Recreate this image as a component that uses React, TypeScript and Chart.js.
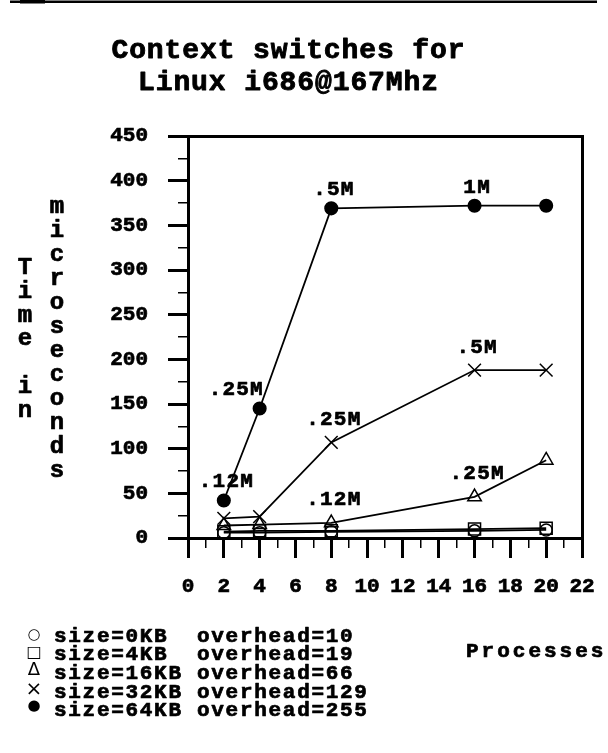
import { useEffect, useRef } from 'react';
import { Chart, registerables } from 'chart.js';

Chart.register(...registerables);

// ---------- data ----------
const TITLE_LINES = ['Context switches for', 'Linux i686@167Mhz'];
const Y_TITLE_LEFT = 'Time in';
const Y_TITLE_RIGHT = 'microseconds';
const X_TITLE = 'Processes';

const PROCESSES = [2, 4, 8, 16, 20];
const SIZE_0KB = [6, 6, 7, 8, 9];
const SIZE_4KB = [7, 8, 8, 10, 11];
const SIZE_16KB = [14, 15, 17, 46, 87];
const SIZE_32KB = [22, 24, 107, 188, 188];
const SIZE_64KB = [42, 145, 369, 372, 372];

const LABELS_16KB = ['', '', '.12M', '.25M', ''];
const LABELS_32KB = ['', '', '.25M', '.5M', ''];
const LABELS_64KB = ['.12M', '.25M', '.5M', '1M', ''];

const SERIES_NAMES = [
  'size=0KB  overhead=10',
  'size=4KB  overhead=19',
  'size=16KB overhead=66',
  'size=32KB overhead=129',
  'size=64KB overhead=255',
];
const LEGEND_SYMBOLS = ['\u25CB', '\u25A1', '\u0394', '\u00D7', '\u25CF'];

const X_MIN = 0;
const X_MAX = 22;
const X_STEP = 2;
const X_MINOR_STEP = 1;
const Y_MIN = 0;
const Y_MAX = 450;
const Y_STEP = 50;
const Y_MINOR_STEP = 25;

// ---------- styles ----------
const FONT = '"Liberation Mono", "Courier New", monospace';
const STROKE = 0.7;
const SYMBOL_SIZES = [15, 16, 18, 20, 15];
const SYMBOL_Y = [635, 652.7, 670.5, 690, 706];

type Series = {
  name: string;
  values: number[];
  labels: string[] | null;
  labelDy: number;
  labelAlign: string[];
  pointStyle: string;
  filled: boolean;
  radius: number;
};

const SERIES: Series[] = [
  { name: SERIES_NAMES[0], values: SIZE_0KB, labels: null, labelDy: 0, labelAlign: [], pointStyle: 'circle', filled: false, radius: 6 },
  { name: SERIES_NAMES[1], values: SIZE_4KB, labels: null, labelDy: 0, labelAlign: [], pointStyle: 'rect', filled: false, radius: 8.5 },
  { name: SERIES_NAMES[2], values: SIZE_16KB, labels: LABELS_16KB, labelDy: -18, labelAlign: ['c', 'c', 'c', 'c', 'c'], pointStyle: 'triangle', filled: false, radius: 7.8 },
  { name: SERIES_NAMES[3], values: SIZE_32KB, labels: LABELS_32KB, labelDy: -17, labelAlign: ['c', 'c', 'c', 'c', 'c'], pointStyle: 'crossRot', filled: false, radius: 9 },
  { name: SERIES_NAMES[4], values: SIZE_64KB, labels: LABELS_64KB, labelDy: -13, labelAlign: ['c', 'r', 'c', 'c', 'c'], pointStyle: 'circle', filled: true, radius: 6.3 },
];

function setSpacing(ctx: CanvasRenderingContext2D, sp: number) {
  (ctx as any).letterSpacing = sp + 'px';
}

function drawText(ctx: CanvasRenderingContext2D, text: string, x: number, y: number, sp: number, align: string, stroke = STROKE) {
  setSpacing(ctx, sp);
  ctx.textAlign = 'left';
  const w = ctx.measureText(text).width - sp;
  let x0 = x;
  if (align === 'c') x0 = x - w / 2;
  else if (align === 'r') x0 = x - w;
  ctx.fillText(text, x0, y);
  if (stroke > 0) {
    ctx.lineWidth = stroke;
    ctx.strokeText(text, x0, y);
  }
}

const textPlugin = {
  id: 'refTexts',
  afterDraw(chart: any) {
    const ctx: CanvasRenderingContext2D = chart.ctx;
    const xs = chart.scales.x;
    const ys = chart.scales.y;
    ctx.save();
    ctx.fillStyle = '#000';
    ctx.strokeStyle = '#000';
    ctx.lineJoin = 'round';

    // page rule at top
    ctx.fillRect(10, 0.5, 587, 2.5);
    ctx.fillRect(20, 0, 25, 3.5);

    ctx.textBaseline = 'alphabetic';

    // title
    ctx.font = `bold 28px ${FONT}`;
    TITLE_LINES.forEach((line, i) => drawText(ctx, line, 288, 58 + i * 32, 0.9, 'c', 0.9));

    // vertical y titles
    ctx.font = `bold 24px ${FONT}`;
    Y_TITLE_LEFT.split('').forEach((ch, i) => drawText(ctx, ch, 25, 274 + i * 23.8, 0, 'c'));
    Y_TITLE_RIGHT.split('').forEach((ch, i) => drawText(ctx, ch, 57, 212.7 + i * 24, 0, 'c'));

    // point annotations
    ctx.font = `bold 21px ${FONT}`;
    SERIES.forEach((s) => {
      if (!s.labels) return;
      s.labels.forEach((lab, i) => {
        if (!lab) return;
        const px = xs.getPixelForValue(PROCESSES[i]);
        const py = ys.getPixelForValue(s.values[i]);
        const al = s.labelAlign[i];
        drawText(ctx, lab, px + (al === 'r' ? 3 : 2), py + s.labelDy, 1.2, al);
      });
    });

    // legend
    ctx.font = `bold 21px ${FONT}`;
    SERIES.forEach((s, i) => drawText(ctx, s.name, 54, 641.7 + i * 18.6, 1.7, 'l'));
    ctx.textBaseline = 'middle';
    LEGEND_SYMBOLS.forEach((sym, i) => {
      ctx.font = `${SYMBOL_SIZES[i]}px "DejaVu Sans"`;
      drawText(ctx, sym, 34, SYMBOL_Y[i], 0, 'c', 0);
    });

    // x title
    ctx.textBaseline = 'alphabetic';
    ctx.font = `bold 21px ${FONT}`;
    drawText(ctx, X_TITLE, 466, 656.7, 3, 'l');

    ctx.restore();
  },
};

export default function App() {
  const ref = useRef<HTMLCanvasElement>(null);

  useEffect(() => {
    const canvas = ref.current;
    if (!canvas) return;
    const tickFont = { family: FONT, size: 21, weight: 'bold' as const };

    const datasets = SERIES.map((s) => ({
      label: s.name,
      data: PROCESSES.map((p, i) => ({ x: p, y: s.values[i] })),
      borderColor: '#000',
      borderWidth: 1.8,
      backgroundColor: '#000',
      pointStyle: s.pointStyle as any,
      pointRadius: s.radius,
      pointHoverRadius: s.radius,
      pointBorderColor: '#000',
      pointBorderWidth: 1.5,
      pointBackgroundColor: s.filled ? '#000' : 'rgba(0,0,0,0)',
      fill: false,
      tension: 0,
      clip: false as any,
      xAxisID: 'x',
      yAxisID: 'y',
    }));

    const noPad = (s: any) => {
      s.paddingLeft = 0;
      s.paddingRight = 0;
    };

    const chart = new Chart(canvas, {
      type: 'line',
      data: { datasets },
      options: {
        animation: false,
        responsive: false,
        maintainAspectRatio: false,
        events: [],
        layout: { padding: { left: 88, right: 26, top: 136, bottom: 135 } },
        plugins: {
          legend: { display: false },
          title: { display: false },
          tooltip: { enabled: false },
        },
        scales: {
          x: {
            type: 'linear',
            position: 'bottom',
            weight: 1,
            min: X_MIN,
            max: X_MAX,
            ticks: {
              stepSize: X_STEP,
              autoSkip: false,
              maxRotation: 0,
              minRotation: 0,
              font: tickFont,
              color: '#000',
              padding: 16,
              textStrokeColor: '#000',
              textStrokeWidth: STROKE,
            },
            grid: { drawOnChartArea: false, drawTicks: true, tickLength: 20, tickWidth: 3, lineWidth: 3, color: '#000' },
            border: { display: true, width: 3, color: '#000' },
            afterFit: (s: any) => { s.height = 80; noPad(s); },
          },
          xMinor: {
            type: 'linear',
            position: 'bottom',
            weight: 0,
            min: X_MIN,
            max: X_MAX,
            ticks: { stepSize: X_MINOR_STEP, display: false, autoSkip: false },
            grid: { drawOnChartArea: false, drawTicks: true, tickLength: 10, tickWidth: 1.5, lineWidth: 1.5, color: '#000' },
            border: { display: false },
            afterFit: (s: any) => { s.height = 0; noPad(s); },
          },
          xTop: {
            type: 'linear',
            position: 'top',
            min: X_MIN,
            max: X_MAX,
            ticks: { display: false },
            grid: { drawOnChartArea: false, drawTicks: false, color: '#000' },
            border: { display: true, width: 3, color: '#000' },
            afterFit: (s: any) => { s.height = 0; noPad(s); },
          },
          y: {
            type: 'linear',
            position: 'left',
            weight: 1,
            min: Y_MIN,
            max: Y_MAX,
            ticks: {
              stepSize: Y_STEP,
              autoSkip: false,
              font: tickFont,
              color: '#000',
              padding: 20,
              textStrokeColor: '#000',
              textStrokeWidth: STROKE,
            },
            grid: { drawOnChartArea: false, drawTicks: true, tickLength: 20, tickWidth: 3, lineWidth: 3, color: '#000' },
            border: { display: true, width: 3, color: '#000' },
            afterFit: (s: any) => { s.width = 100; },
          },
          yMinor: {
            type: 'linear',
            position: 'left',
            weight: 0,
            min: Y_MIN,
            max: Y_MAX,
            ticks: { stepSize: Y_MINOR_STEP, display: false, autoSkip: false },
            grid: { drawOnChartArea: false, drawTicks: true, tickLength: 10, tickWidth: 1.5, lineWidth: 1.5, color: '#000' },
            border: { display: false },
            afterFit: (s: any) => { s.width = 0; },
          },
          yRight: {
            type: 'linear',
            position: 'right',
            min: Y_MIN,
            max: Y_MAX,
            ticks: { display: false },
            grid: { drawOnChartArea: false, drawTicks: false, color: '#000' },
            border: { display: true, width: 3, color: '#000' },
            afterFit: (s: any) => { s.width = 0; },
          },
        },
      } as any,
      plugins: [textPlugin],
    });

    return () => chart.destroy();
  }, []);

  return (
    <div style={{ position: 'absolute', left: 0, top: 0, width: 608, height: 753, background: '#fff' }}>
      <canvas ref={ref} width={608} height={753} style={{ display: 'block', width: 608, height: 753 }} />
    </div>
  );
}
